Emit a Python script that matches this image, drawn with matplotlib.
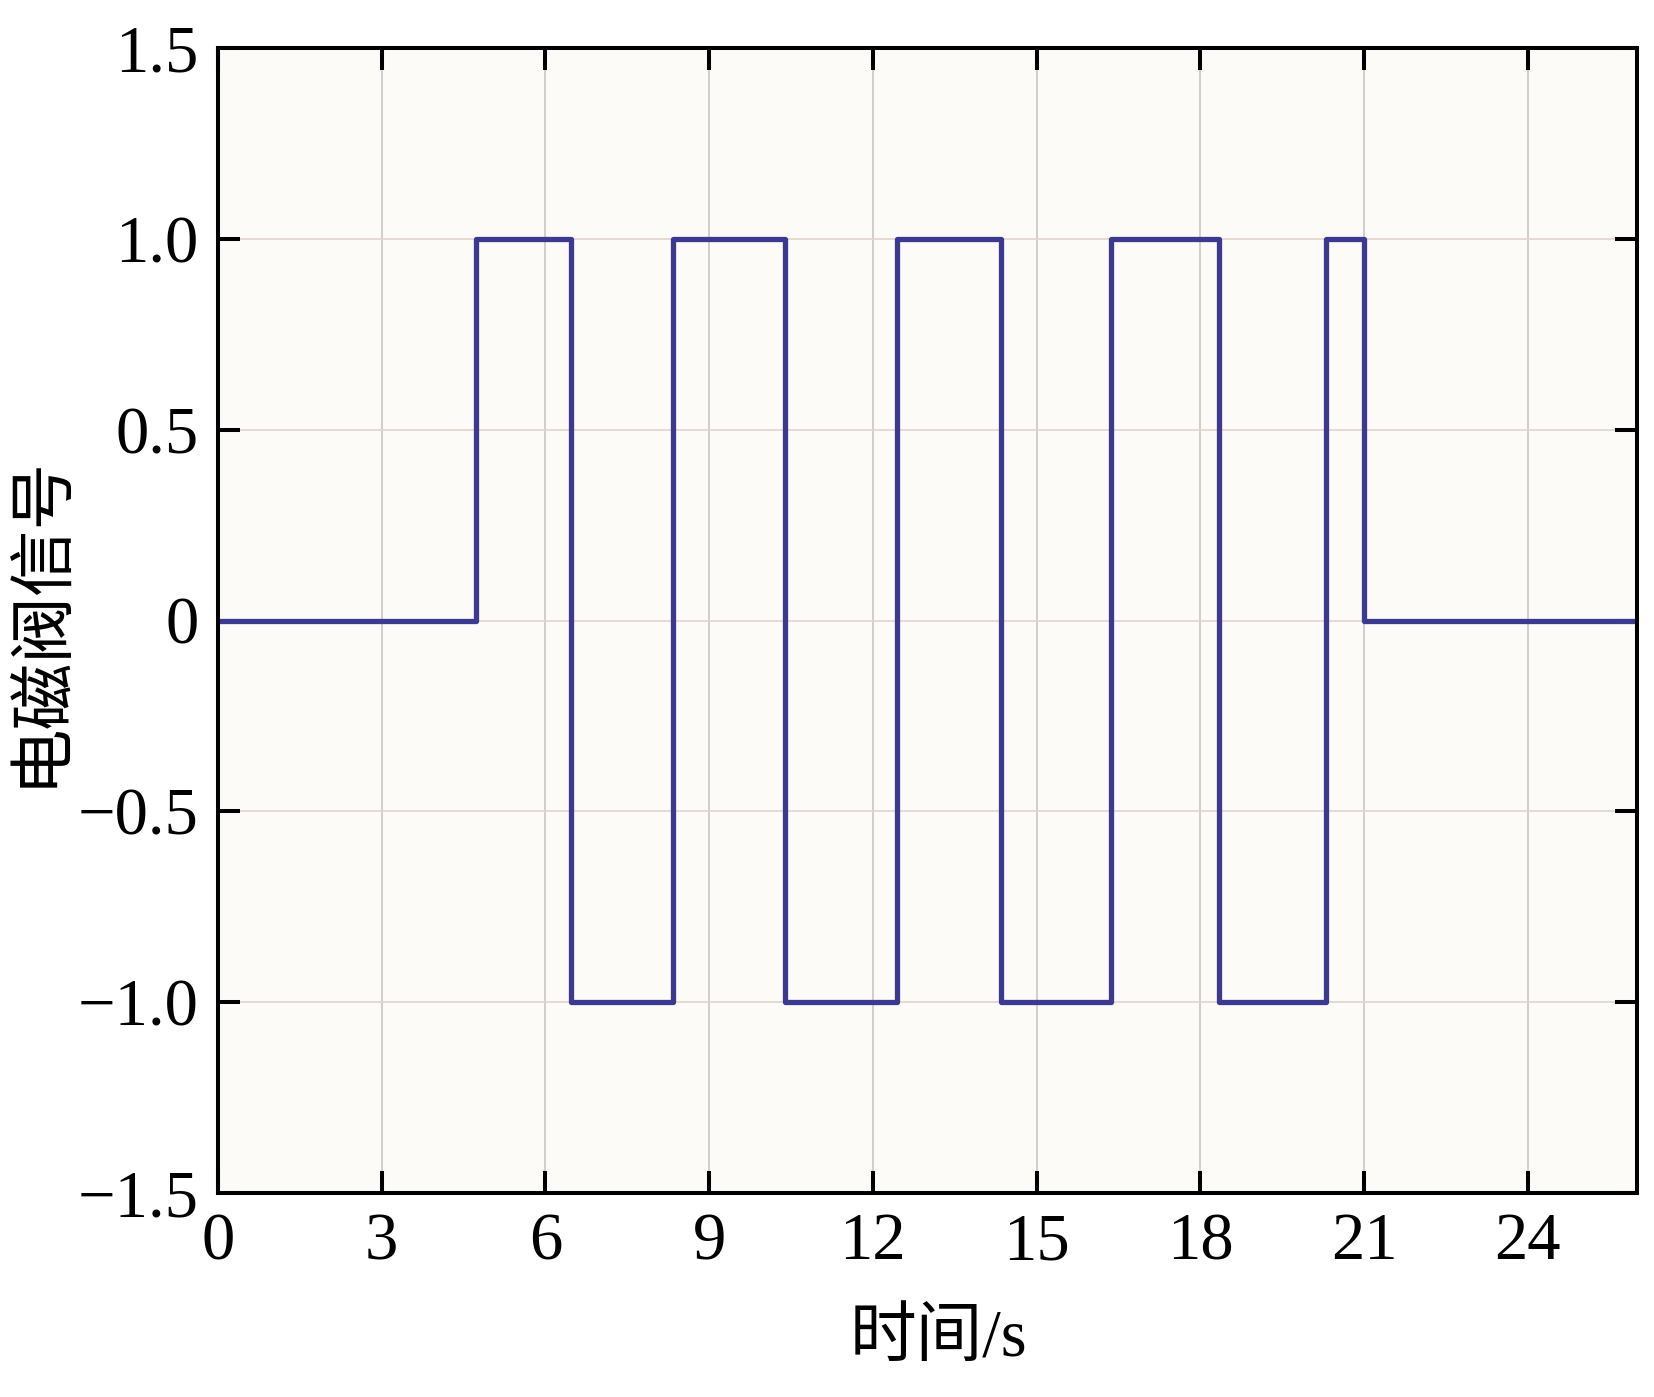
import matplotlib
matplotlib.use("Agg")
import matplotlib.pyplot as plt

# 电磁阀开关时刻 (s) 和对应信号
switch_times = [0, 4.72, 6.46, 8.33, 10.38, 12.45, 14.34, 16.36, 18.35, 20.30, 21.0, 26]
signal = [0, 1, -1, 1, -1, 1, -1, 1, -1, 1, 0, 0]

x_ticks = [0, 3, 6, 9, 12, 15, 18, 21, 24]
y_ticks = [-1.5, -1.0, -0.5, 0, 0.5, 1.0, 1.5]
y_ticklabels = ["\u22121.5", "\u22121.0", "\u22120.5", "0", "0.5", "1.0", "1.5"]

plt.rcParams['font.family'] = ['Liberation Serif', 'Noto Sans CJK SC']
plt.rcParams['font.size'] = 48

fig = plt.figure(figsize=(16.54, 13.97), dpi=100)
ax = fig.add_axes([218/1654, 1 - 1193/1397, (1637-218)/1654, (1193-48)/1397])
ax.set_facecolor('#fcfbf8')

ax.plot(switch_times, signal, drawstyle='steps-post', color='#3c3a90', lw=3.8)

ax.set_xlim(0, 26)
ax.set_ylim(-1.5, 1.5)
ax.set_xticks(x_ticks)
ax.set_yticks(y_ticks)
ax.set_yticklabels(y_ticklabels)

ax.xaxis.grid(True, color='#cbc6c6', lw=1.2)
ax.yaxis.grid(True, color='#e3d3cc', lw=1.2)
ax.set_axisbelow(True)

ax.tick_params(direction='in', length=16, width=2.9, top=True, right=True,
               labelsize=48, pad=14)
for s in ax.spines.values():
    s.set_linewidth(2.9)

ax.set_ylabel('电磁阀信号', fontsize=48)
ax.set_xlabel('时间/s', fontsize=48)
ax.yaxis.set_label_coords(-0.124, 0.5)
ax.xaxis.set_label_coords(0.508, -0.128)
ax.xaxis.label.set_va('center')
ax.yaxis.label.set_va('center')

fig.savefig('out.png', dpi=100)
